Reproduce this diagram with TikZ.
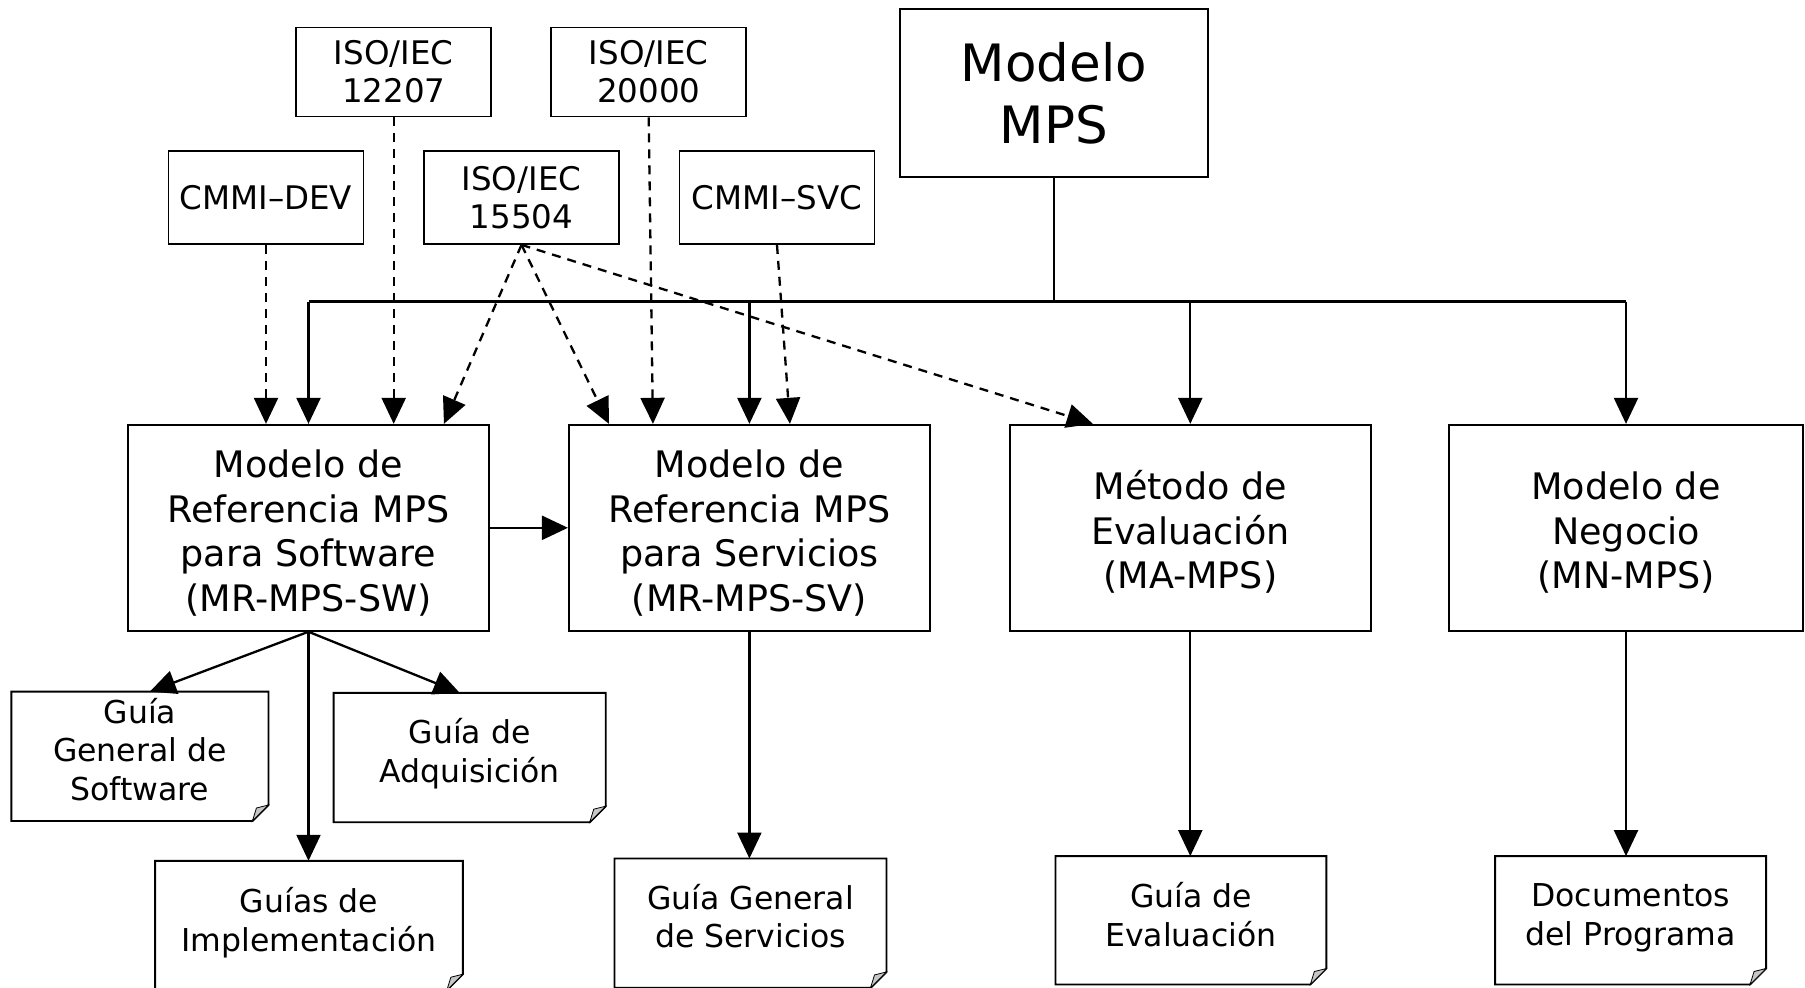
\documentclass[tikz,border=0pt]{standalone}
\usepackage{fontspec}
\setmainfont{DejaVu Sans}
\usetikzlibrary{arrows.meta}
\newcommand\mystrut{\rule{0pt}{38pt}}
\newcommand\dogear[1]{%
  \draw[docline] (#1.north west) -- (#1.north east) -- ([yshift=16pt]#1.south east) -- ([xshift=-16pt]#1.south east) -- (#1.south west) -- cycle;
  \filldraw[fill=gray!45, line width=0.8pt] ([yshift=16pt]#1.south east) -- ([xshift=-16pt]#1.south east) -- ([xshift=-12pt,yshift=13pt]#1.south east) -- cycle;}
\begin{document}
\begin{tikzpicture}[x=1pt,y=-1pt,
  box/.style={draw, line width=1.9pt, align=center, inner sep=0pt, font=\fontsize{32.5}{38}\selectfont},
  small/.style={box, minimum width=195pt, minimum height=89pt},
  big/.style={box, minimum width=361pt, minimum height=206pt, font=\fontsize{36.5}{44.5}\selectfont},
  docbox/.style={inner sep=0pt, minimum height=129pt},
  doctext/.style={align=center, inner sep=0pt, font=\fontsize{31.5}{38.5}\selectfont},
  docline/.style={line width=1.9pt, fill=white},
  arr/.style={line width=2.3pt, -{Triangle[length=26pt,width=24pt]}},
  darr/.style={line width=2.3pt, dash pattern=on 9pt off 7pt, -{Triangle[length=26pt,width=24pt]}},
  plain/.style={line width=2.3pt}
]
\useasboundingbox[fill=white] (0,0) rectangle (1805,988);

% top row
\node[small] (iso12207) at (393.7,72) {ISO/IEC\\12207};
\node[small] (iso20000) at (648.7,72) {ISO/IEC\\20000};
\node[box, minimum width=307.5pt, minimum height=168pt, font=\fontsize{51.5}{62}\selectfont] (mps) at (1053.8,93.2) {Modelo\\MPS};
\node[small, minimum height=93pt] (cmmidev) at (266,197.4) {CMMI–DEV};
\node[small, minimum height=93pt] (iso15504) at (521.5,197.4) {ISO/IEC\\15504};
\node[small, minimum height=93pt] (cmmisvc) at (777,197.4) {CMMI–SVC};

% main row
\node[big] (sw) at (308.5,527.8) {\mystrut Modelo de\\Referencia MPS\\para Software\\(MR-MPS-SW)};
\node[big] (sv) at (749.4,527.8) {\mystrut Modelo de\\Referencia MPS\\para Servicios\\(MR-MPS-SV)};
\node[big] (ma) at (1190.3,527.8) {\mystrut Método de\\Evaluación\\(MA-MPS)};
\node[big, minimum width=354pt] (mn) at (1626,527.8) {\mystrut Modelo de\\Negocio\\(MN-MPS)};

% documents
\node[docbox, minimum width=256.7pt] (ggsw) at (139.9,756.3) {};
\node[docbox, minimum width=271.7pt] (gadq) at (469.7,757.5) {};
\node[docbox, minimum width=307.3pt] (gimpl) at (309,925.5) {};
\node[docbox, minimum width=271.6pt] (ggsv) at (750.5,923.2) {};
\node[docbox, minimum width=270.5pt, minimum height=128pt] (geval) at (1190.9,920.3) {};
\node[docbox, minimum width=270.5pt, minimum height=128pt] (gdoc) at (1630.6,920.3) {};
\dogear{ggsw}
\dogear{gadq}
\dogear{gimpl}
\dogear{ggsv}
\dogear{geval}
\dogear{gdoc}
\node[doctext] (ggswT) at (139.9,749.5) {Guía\\General de\\Software};
\node[doctext] (gadqT) at (469.7,753.5) {Guía de\\Adquisición};
\node[doctext] (gimplT) at (309,922.5) {Guías de\\Implementación};
\node[doctext] (ggsvT) at (750.5,916) {Guía General\\de Servicios};
\node[doctext] (gevalT) at (1190.9,914.5) {Guía de\\Evaluación};
\node[doctext] (gdocT) at (1630.6,918) {Documentos\\del Programa};

% bus from Modelo MPS
\coordinate (bus) at (1053.8,301.6);
\draw[plain] (mps.south) -- (bus);
\draw[plain] (sw.north |- bus) -- (mn.north |- bus);
\draw[arr] (sw.north |- bus) -- (sw.north);
\draw[arr] (sv.north |- bus) -- (sv.north);
\draw[arr] (ma.north |- bus) -- (ma.north);
\draw[arr] (mn.north |- bus) -- (mn.north);

% dashed influences
\draw[darr] (cmmidev.south) -- (cmmidev.south |- sw.north);
\draw[darr] (iso12207.south) -- (iso12207.south |- sw.north);
\draw[darr] (iso20000.south) -- ([xshift=85pt]sv.north west);
\draw[darr] (cmmisvc.south) -- ([xshift=222pt]sv.north west);
\draw[darr] (iso15504.south) -- ([xshift=-46pt]sw.north east);
\draw[darr] (iso15504.south) -- ([xshift=41pt]sv.north west);
\draw[darr] (iso15504.south) -- ([xshift=84pt]ma.north west);

% SW to SV
\draw[arr] (sw.east) -- (sv.west);

% to documents
\draw[arr] (sw.south) -- ([xshift=138.5pt]ggsw.north west);
\draw[arr] (sw.south) -- ([xshift=126pt]gadq.north west);
\draw[arr] (sw.south) -- (sw.south |- gimpl.north);
\draw[arr] (sv.south) -- (sv.south |- ggsv.north);
\draw[arr] (ma.south) -- (ma.south |- geval.north);
\draw[arr] (mn.south) -- (mn.south |- gdoc.north);
\end{tikzpicture}
\end{document}
